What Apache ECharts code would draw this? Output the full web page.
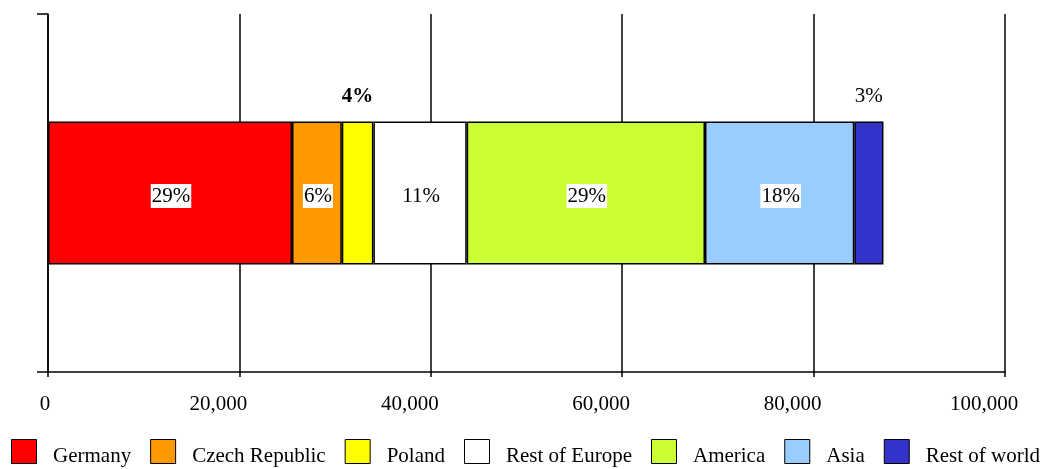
<!DOCTYPE html>
<html>
<head>
<meta charset="utf-8">
<script src="https://cdn.jsdelivr.net/npm/echarts@6/dist/echarts.min.js"></script>
<style>
  html, body { margin: 0; padding: 0; background: #fff; }
  #main { width: 1043px; height: 469px; }
</style>
</head>
<body>
<div id="main"></div>
<script>
// regions, left to right along the bar
var regions = ["Germany", "Czech Republic", "Poland", "Rest of Europe", "America", "Asia", "Rest of world"];
var amounts = [25500, 5200, 3300, 9750, 24900, 15600, 3050];
var colors = ["#ff0000", "#ff9900", "#ffff00", "#ffffff", "#ccff33", "#99ccff", "#3333cc"];
var xTicks = [0, 20000, 40000, 60000, 80000, 100000];

var font = "'Liberation Serif', 'Times New Roman', serif";
var total = amounts.reduce(function (a, b) { return a + b; }, 0);

var myChart = echarts.init(document.getElementById("main"));

var series = regions.map(function (name, i) {
  var share = Math.round(amounts[i] / total * 100);
  // small pieces get their label above the bar
  var outside = share <= 4;
  return {
    name: name,
    type: "bar",
    stack: "total",
    barWidth: "40%",
    data: [amounts[i]],
    itemStyle: { color: colors[i], borderColor: "#000", borderWidth: 1.5 },
    label: {
      show: true,
      position: outside ? "top" : "inside",
      distance: 13,
      offset: outside ? [0, 0] : [1, 3],
      formatter: share + "%",
      fontFamily: font,
      fontSize: 21,
      color: "#000",
      fontWeight: name === "Poland" ? "bold" : "normal",
      backgroundColor: outside ? "transparent" : "#fff",
      padding: [2, 1, 1, 1]
    }
  };
});

var option = {
  animation: false,
  textStyle: { fontFamily: font },
  grid: { left: 48, right: 38, top: 14, bottom: 97 },
  legend: {
    data: regions,
    left: 11,
    top: 439,
    padding: 0,
    width: 1032,
    icon: "rect",
    itemWidth: 25,
    itemHeight: 24,
    itemGap: 19,
    itemStyle: { borderColor: "#000", borderWidth: 1 },
    formatter: function (name) { return "{t|" + name + "}"; },
    textStyle: {
      fontFamily: font, fontSize: 21, color: "#000", padding: [0, 0, 0, 11.5],
      rich: { t: { fontFamily: font, fontSize: 21, color: "#000", padding: [10, 0, 0, 0] } }
    }
  },
  xAxis: {
    type: "value",
    min: xTicks[0],
    max: xTicks[xTicks.length - 1],
    interval: xTicks[1] - xTicks[0],
    axisLine: { show: true, lineStyle: { color: "#000", width: 1.5 } },
    axisTick: { show: true, length: 5, lineStyle: { color: "#000", width: 1.5 } },
    splitLine: { show: true, lineStyle: { color: "#000", width: 1.5 } },
    axisLabel: {
      margin: 22,
      fontFamily: font,
      fontSize: 21,
      color: "#000",
      showMaxLabel: true,
      formatter: function (v) {
        var s = v.toLocaleString("en-US");
        return v === 0 ? "{z|" + s + "}" : "{n|" + s + "}";
      },
      rich: {
        z: { fontFamily: font, fontSize: 21, color: "#000", padding: [0, 6, 0, 0] },
        n: { fontFamily: font, fontSize: 21, color: "#000", padding: [0, 42, 0, 0] }
      }
    }
  },
  yAxis: {
    type: "category",
    data: [""],
    axisLine: { show: true, lineStyle: { color: "#000", width: 1.5 } },
    axisTick: { show: true, length: 11, lineStyle: { color: "#000", width: 1.5 } },
    axisLabel: { show: false }
  },
  series: series
};

myChart.setOption(option);
</script>
</body>
</html>
